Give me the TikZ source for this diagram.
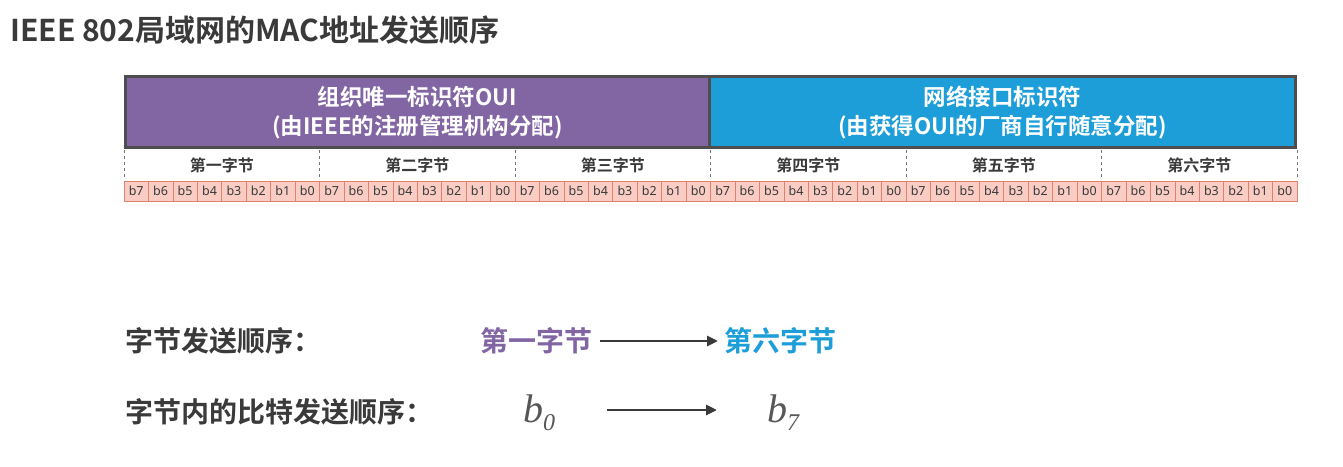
\documentclass[tikz,border=0pt]{standalone}
\usepackage{fontspec}
\newfontfamily\cjk{Noto Sans CJK SC Bold}
\newfontfamily\bitfont{Noto Sans}
\newfontfamily\serifit{Liberation Serif}
\usetikzlibrary{arrows.meta}
\definecolor{oui}{HTML}{8266A4}
\definecolor{nic}{HTML}{1E9ED8}
\definecolor{bitfill}{HTML}{F9CDC4}
\definecolor{bitline}{HTML}{E0806E}
\definecolor{txt}{HTML}{3A3A3A}
\newcommand\bsym[1]{{\fontsize{40}{40}\selectfont b}\raisebox{-8pt}{\fontsize{24}{24}\selectfont #1}}
\tikzset{x=1pt,y=-1pt,
 bitcell/.style={draw=bitline,fill=bitfill,line width=0.6pt},
 bittxt/.style={font=\bitfont\fontsize{12.5}{12.5}\selectfont,text=txt,inner sep=0},
 bytetxt/.style={font=\cjk\fontsize{16}{16}\selectfont,text=txt,inner sep=0},
 headtxt/.style={font=\cjk\fontsize{22.5}{29}\selectfont,text=white,align=center,inner sep=0},
 big/.style={font=\cjk\fontsize{28}{28}\selectfont,inner sep=0,anchor=west},
 bitsym/.style={font=\serifit\itshape,text=txt!85,inner sep=0,anchor=base west},
 sendarrow/.style={-{Triangle[length=11pt,width=10pt]},line width=2.8pt,draw=txt}}
\begin{document}
\begin{tikzpicture}
\useasboundingbox (0,0) rectangle (1343,466);
\fill[white] (0,0) rectangle (1343,466);
\node[font=\cjk\fontsize{30}{30}\selectfont,text=txt,anchor=west,inner sep=0] (title) at (10,30) {IEEE 802局域网的MAC地址发送顺序};
\fill[txt!90] (124,75) rectangle (1297,149);
\fill[oui] (127,78) rectangle (708,146);
\fill[nic] (711,78) rectangle (1294,146);
\node[headtxt] (h1) at (417.5,113) {组织唯一标识符OUI\\(由IEEE的注册管理机构分配)};
\node[headtxt] (h2) at (1002.5,113) {网络接口标识符\\(由获得OUI的厂商自行随意分配)};
\foreach \i/\t in {0/第一字节,1/第二字节,2/第三字节,3/第四字节,4/第五字节,5/第六字节}{
  \pgfmathsetmacro\xa{124+\i*195.5}
  \pgfmathsetmacro\xm{\xa+97.75}
  \draw[dashed,txt!70,line width=0.6pt] (\xa,150) -- (\xa,180);
  \node[bytetxt] (byte\i) at (\xm,165) {\t};
  \foreach \j in {0,...,7}{
    \pgfmathsetmacro\xc{\xa+\j*24.4375}
    \pgfmathtruncatemacro\bn{7-\j}
    \draw[bitcell] (\xc,181) rectangle ++(24.4375,20);
    \node[bittxt] (bit\i\j) at (\xc+12.2,191) {b\bn};
  }
}
\draw[dashed,txt!70,line width=0.6pt] (1297,150) -- (1297,180);
\node[big,text=txt] (l1) at (125,341) {字节发送顺序：};
\node[big,text=oui] (f1) at (480,341) {第一字节};
\node[big,text=nic] (f6) at (724,341) {第六字节};
\draw[sendarrow] ([xshift=8pt]f1.east) -- ([xshift=-6pt]f6.west);
\node[big,text=txt] (l2) at (125,412) {字节内的比特发送顺序：};
\node[bitsym] (b0) at (523,422) {\bsym{0}};
\node[bitsym] (b7) at (767,422) {\bsym{7}};
\coordinate (a1) at (607,410);
\coordinate (a2) at (717,410);
\draw[sendarrow] (a1) -- (a2);
\end{tikzpicture}
\end{document}
